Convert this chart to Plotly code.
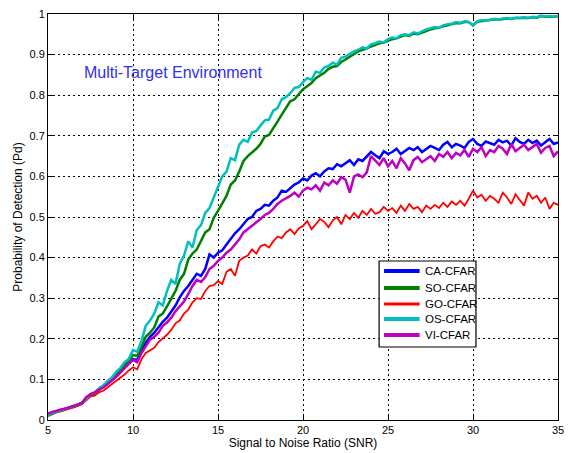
import numpy as np
import plotly.graph_objects as go

snr = [5 + 0.25 * i for i in range(121)]

os_cfar = [0.012, 0.018, 0.020, 0.024, 0.027, 0.030, 0.034, 0.038, 0.042,
           0.052, 0.064, 0.068, 0.078, 0.085, 0.096, 0.104, 0.118,
           0.128, 0.142, 0.150, 0.172, 0.168, 0.195, 0.232, 0.245,
           0.262, 0.290, 0.282, 0.318, 0.345, 0.335, 0.385, 0.405,
           0.440, 0.425, 0.468, 0.480, 0.510, 0.522, 0.548, 0.575,
           0.600, 0.612, 0.645, 0.640, 0.678, 0.690, 0.685, 0.708,
           0.712, 0.725, 0.738, 0.740, 0.762, 0.768, 0.790, 0.795,
           0.805, 0.818, 0.820, 0.832, 0.842, 0.838, 0.858, 0.855,
           0.868, 0.872, 0.880, 0.875, 0.892, 0.895, 0.902, 0.908,
           0.912, 0.918, 0.915, 0.925, 0.928, 0.932, 0.930, 0.938,
           0.942, 0.940, 0.948, 0.950, 0.948, 0.955, 0.952, 0.958,
           0.962, 0.965, 0.968, 0.966, 0.972, 0.975, 0.976, 0.980,
           0.978, 0.982, 0.980, 0.972, 0.982, 0.985, 0.984, 0.986,
           0.988, 0.986, 0.989, 0.990, 0.988, 0.991, 0.990, 0.992,
           0.990, 0.993, 0.992, 0.996, 0.994, 0.995, 0.993, 0.995]

so_cfar = [0.010, 0.016, 0.020, 0.022, 0.026, 0.029, 0.032, 0.036, 0.040,
           0.050, 0.062, 0.066, 0.075, 0.082, 0.092, 0.100, 0.112,
           0.122, 0.135, 0.145, 0.160, 0.158, 0.180, 0.205, 0.215,
           0.228, 0.255, 0.262, 0.280, 0.300, 0.318, 0.345, 0.360,
           0.395, 0.410, 0.420, 0.440, 0.462, 0.470, 0.498, 0.515,
           0.535, 0.552, 0.580, 0.590, 0.612, 0.638, 0.650, 0.658,
           0.668, 0.680, 0.698, 0.702, 0.720, 0.735, 0.752, 0.770,
           0.785, 0.790, 0.802, 0.815, 0.822, 0.830, 0.842, 0.848,
           0.855, 0.865, 0.870, 0.872, 0.882, 0.888, 0.895, 0.902,
           0.908, 0.912, 0.915, 0.920, 0.925, 0.928, 0.930, 0.935,
           0.938, 0.940, 0.945, 0.948, 0.946, 0.952, 0.950, 0.955,
           0.958, 0.962, 0.965, 0.966, 0.970, 0.972, 0.975, 0.978,
           0.977, 0.980, 0.980, 0.972, 0.981, 0.983, 0.984, 0.985,
           0.987, 0.986, 0.988, 0.989, 0.988, 0.990, 0.990, 0.991,
           0.990, 0.992, 0.991, 0.995, 0.993, 0.994, 0.993, 0.994]

ca_cfar = [0.014, 0.018, 0.022, 0.024, 0.028, 0.030, 0.034, 0.038, 0.042,
           0.055, 0.062, 0.066, 0.074, 0.080, 0.090, 0.098, 0.108,
           0.118, 0.130, 0.140, 0.150, 0.148, 0.172, 0.190, 0.205,
           0.215, 0.228, 0.242, 0.252, 0.268, 0.282, 0.302, 0.318,
           0.330, 0.345, 0.360, 0.355, 0.372, 0.408, 0.400, 0.412,
           0.418, 0.432, 0.445, 0.460, 0.470, 0.482, 0.495, 0.500,
           0.515, 0.520, 0.530, 0.528, 0.540, 0.548, 0.565, 0.562,
           0.572, 0.580, 0.585, 0.595, 0.590, 0.602, 0.608, 0.600,
           0.612, 0.620, 0.618, 0.630, 0.625, 0.632, 0.640, 0.628,
           0.642, 0.638, 0.648, 0.660, 0.652, 0.645, 0.662, 0.655,
           0.660, 0.668, 0.655, 0.662, 0.670, 0.665, 0.672, 0.660,
           0.668, 0.675, 0.670, 0.665, 0.678, 0.685, 0.672, 0.680,
           0.676, 0.670, 0.685, 0.692, 0.680, 0.675, 0.686, 0.682,
           0.678, 0.690, 0.684, 0.688, 0.676, 0.694, 0.685, 0.680,
           0.690, 0.682, 0.688, 0.676, 0.684, 0.692, 0.680, 0.684]

vi_cfar = [0.016, 0.020, 0.022, 0.026, 0.028, 0.031, 0.034, 0.038, 0.042,
           0.056, 0.064, 0.068, 0.075, 0.080, 0.088, 0.096, 0.106,
           0.116, 0.128, 0.138, 0.148, 0.142, 0.165, 0.182, 0.198,
           0.205, 0.215, 0.232, 0.240, 0.252, 0.268, 0.280, 0.292,
           0.310, 0.330, 0.345, 0.340, 0.352, 0.372, 0.380, 0.392,
           0.400, 0.412, 0.420, 0.432, 0.445, 0.462, 0.470, 0.478,
           0.488, 0.495, 0.505, 0.510, 0.520, 0.532, 0.540, 0.545,
           0.552, 0.560, 0.550, 0.565, 0.572, 0.568, 0.578, 0.565,
           0.585, 0.578, 0.590, 0.582, 0.598, 0.592, 0.560, 0.600,
           0.605, 0.598, 0.610, 0.650, 0.640, 0.628, 0.645, 0.625,
           0.638, 0.620, 0.645, 0.632, 0.615, 0.640, 0.648, 0.635,
           0.642, 0.650, 0.638, 0.655, 0.648, 0.660, 0.645, 0.658,
           0.652, 0.665, 0.648, 0.668, 0.660, 0.672, 0.650, 0.665,
           0.660, 0.675, 0.668, 0.655, 0.680, 0.662, 0.670, 0.678,
           0.665, 0.672, 0.680, 0.658, 0.670, 0.675, 0.650, 0.662]

go_cfar = [0.012, 0.016, 0.019, 0.022, 0.025, 0.028, 0.032, 0.035, 0.040,
           0.048, 0.058, 0.060, 0.068, 0.072, 0.080, 0.086, 0.095,
           0.102, 0.112, 0.122, 0.130, 0.125, 0.150, 0.165, 0.172,
           0.178, 0.192, 0.200, 0.210, 0.222, 0.238, 0.245, 0.262,
           0.272, 0.290, 0.300, 0.298, 0.318, 0.330, 0.332, 0.342,
           0.335, 0.365, 0.372, 0.355, 0.392, 0.400, 0.405, 0.420,
           0.410, 0.428, 0.432, 0.425, 0.440, 0.452, 0.448, 0.462,
           0.470, 0.458, 0.472, 0.478, 0.490, 0.470, 0.482, 0.495,
           0.488, 0.475, 0.492, 0.500, 0.482, 0.505, 0.495, 0.510,
           0.498, 0.515, 0.505, 0.520, 0.508, 0.512, 0.525, 0.515,
           0.522, 0.510, 0.528, 0.515, 0.532, 0.520, 0.525, 0.512,
           0.528, 0.520, 0.530, 0.522, 0.535, 0.525, 0.538, 0.530,
           0.540, 0.528, 0.545, 0.565, 0.548, 0.555, 0.540, 0.552,
           0.545, 0.535, 0.560, 0.548, 0.532, 0.556, 0.542, 0.528,
           0.560, 0.545, 0.552, 0.535, 0.548, 0.520, 0.535, 0.530]

names = ["CA-CFAR", "SO-CFAR", "GO-CFAR", "OS-CFAR", "VI-CFAR"]
values = [ca_cfar, so_cfar, go_cfar, os_cfar, vi_cfar]
colors = ["#0000FF", "#008000", "#FF0000", "#00BFBF", "#BF00BF"]
widths = [2.5, 2.5, 1.8, 2.5, 2.5]

x_ticks = [5, 10, 15, 20, 25, 30, 35]
y_ticks = [0, 0.1, 0.2, 0.3, 0.4, 0.5, 0.6, 0.7, 0.8, 0.9, 1]
y_ticktext = ["0", "0.1", "0.2", "0.3", "0.4", "0.5", "0.6", "0.7", "0.8", "0.9", "1"]

font_family = "Liberation Sans, Arial, sans-serif"

# plot area geometry (pixels) for the manual legend
L, R, T, B = 48, 564, 14, 420
W, H = 569, 453
PW, PH = R - L, B - T

def px(xp):
    return (xp - L) / PW

def py(yp):
    return (B - yp) / PH

fig = go.Figure()
for name, vals, color, w in zip(names, values, colors, widths):
    fig.add_trace(go.Scatter(x=snr, y=vals, mode="lines", name=name,
                             line=dict(color=color, width=w), showlegend=False))

axis_common = dict(
    showline=True, linecolor="black", linewidth=1, mirror="ticks",
    ticks="inside", ticklen=5, tickcolor="black",
    showgrid=True, gridcolor="black", gridwidth=1, griddash="2px,3px",
    zeroline=False, tickfont=dict(family=font_family, size=11, color="black"),
    ticklabeloverflow="allow",
)

fig.update_xaxes(range=[5, 35], tickvals=x_ticks,
                 title=dict(text="Signal to Noise Ratio (SNR)", standoff=2,
                            font=dict(family=font_family, size=12, color="black")),
                 **axis_common)
fig.update_yaxes(range=[0, 1], tickvals=y_ticks, ticktext=y_ticktext,
                 title=dict(text="Probability of Detection (Pd)", standoff=4,
                            font=dict(family=font_family, size=12, color="black")),
                 **axis_common)

fig.add_annotation(x=7.0, y=0.857, xref="x", yref="y", xanchor="left", yanchor="middle",
                   text="Multi-Target Environment", showarrow=False,
                   font=dict(family=font_family, size=16, color="#3030F0"))

# manual legend (compact, MATLAB style)
box_x0, box_x1, box_y0, box_y1 = 383, 481, 261, 347
fig.add_shape(type="rect", xref="paper", yref="paper",
              x0=px(box_x0), x1=px(box_x1), y0=py(box_y1), y1=py(box_y0),
              line=dict(color="black", width=1.2), fillcolor="white", layer="above")
item_y = [271, 288, 304, 319, 335]
for name, color, w, yy in zip(names, colors, widths, item_y):
    fig.add_shape(type="line", xref="paper", yref="paper",
                  x0=px(388), x1=px(424), y0=py(yy), y1=py(yy),
                  line=dict(color=color, width=w + 1.3), layer="above")
    fig.add_annotation(x=px(427), y=py(yy), xref="paper", yref="paper",
                       xanchor="left", yanchor="middle", text=name, showarrow=False,
                       font=dict(family=font_family, size=11.5, color="black"))

fig.update_layout(
    width=W, height=H,
    margin=dict(l=L, r=W - R, t=T, b=H - B),
    paper_bgcolor="white", plot_bgcolor="white",
    showlegend=False,
)

fig.write_html("out.html")
